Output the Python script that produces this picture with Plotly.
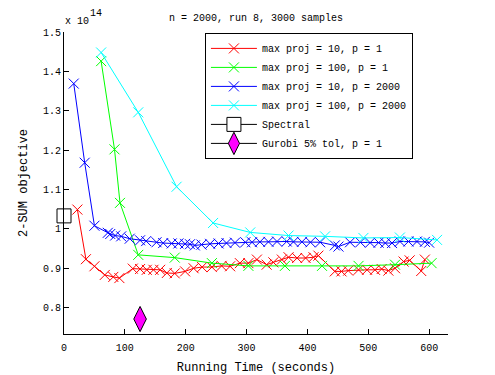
import plotly.graph_objects as go

# running time (s) and 2-SUM objective (x 1e14) per series
red_x = [22, 36, 50, 67, 81, 91, 113, 125, 136, 147, 158, 169, 182, 199, 213, 227, 243,
         259, 273, 289, 303, 317, 333, 344, 358, 369, 383, 397, 410, 418, 445, 456, 467,
         484, 498, 511, 522, 533, 544, 558, 568, 587, 593]
red_y = [1.049, 0.923, 0.905, 0.883, 0.878, 0.875, 0.899, 0.898, 0.896, 0.896, 0.896, 0.888,
         0.887, 0.892, 0.900, 0.903, 0.903, 0.906, 0.905, 0.913, 0.913, 0.922, 0.909, 0.915,
         0.922, 0.928, 0.926, 0.926, 0.928, 0.932, 0.892, 0.892, 0.894, 0.896, 0.896, 0.896,
         0.898, 0.894, 0.900, 0.917, 0.920, 0.893, 0.922]

green_x = [61, 83, 92, 122, 182, 243, 303, 363, 424, 484, 544, 604]
green_y = [1.426, 1.202, 1.066, 0.934, 0.927, 0.913, 0.906, 0.906, 0.906, 0.906, 0.909, 0.913]

blue_x = [16, 34, 50, 72, 76, 84, 94, 108, 125, 135, 152, 163, 177, 188, 199, 207, 215, 226,
          240, 254, 267, 281, 298, 309, 322, 336, 350, 366, 377, 391, 405, 421, 445, 451,
          470, 487, 503, 517, 528, 539, 552, 566, 580, 593, 600]
blue_y = [1.369, 1.168, 1.008, 0.990, 0.987, 0.983, 0.981, 0.975, 0.971, 0.969, 0.966, 0.964,
          0.963, 0.963, 0.962, 0.961, 0.958, 0.960, 0.962, 0.963, 0.964, 0.965, 0.966, 0.966,
          0.967, 0.967, 0.968, 0.968, 0.967, 0.967, 0.966, 0.966, 0.958, 0.955, 0.966, 0.966,
          0.965, 0.965, 0.964, 0.964, 0.968, 0.968, 0.968, 0.967, 0.965]

cyan_x = [61, 122, 185, 245, 306, 369, 429, 492, 552, 613]
cyan_y = [1.448, 1.296, 1.107, 1.015, 0.991, 0.983, 0.981, 0.977, 0.978, 0.972]

spectral_x = [0]
spectral_y = [1.033]
gurobi_x = [125]
gurobi_y = [0.771]

FONT = "Liberation Mono"

fig = go.Figure()

series = [
    (red_x, red_y, "#ff0000", "max proj = 10, p = 1"),
    (green_x, green_y, "#00ff00", "max proj = 100, p = 1"),
    (blue_x, blue_y, "#0000ff", "max proj = 10, p = 2000"),
    (cyan_x, cyan_y, "#00ffff", "max proj = 100, p = 2000"),
]
for xs, ys, col, name in series:
    fig.add_trace(go.Scatter(
        x=xs, y=ys, name=name, mode="lines+markers",
        line=dict(color=col, width=1),
        marker=dict(symbol="x-thin-open", size=10, color=col,
                    line=dict(color=col, width=1)),
    ))

fig.add_trace(go.Scatter(
    x=spectral_x, y=spectral_y, name="Spectral", mode="lines+markers",
    line=dict(color="black", width=1),
    marker=dict(symbol="square", size=14, color="white",
                line=dict(color="black", width=1)),
    cliponaxis=False,
))
fig.add_trace(go.Scatter(
    x=gurobi_x, y=gurobi_y, name="Gurobi 5% tol, p = 1", mode="lines+markers",
    line=dict(color="black", width=1),
    marker=dict(symbol="diamond-tall", size=18, color="#ff00ff",
                line=dict(color="black", width=1)),
))

# the page body has an 8px margin, so the figure is shrunk by that much
fig.update_layout(
    width=487, height=367,
    margin=dict(l=56, r=47, t=24, b=41),
    plot_bgcolor="white", paper_bgcolor="white",
    font=dict(family=FONT, size=10, color="black"),
    title=dict(text="n = 2000, run 8, 3000 samples", xref="paper", x=0.5,
               xanchor="center", y=0.973, yanchor="middle", font=dict(size=10)),
    legend=dict(x=0.367, y=0.997, xanchor="left", yanchor="top",
                bordercolor="black", borderwidth=1, bgcolor="white",
                font=dict(size=10), tracegroupgap=0, itemwidth=46),
    annotations=[
        dict(text="x 10", xref="paper", yref="paper", x=-0.003, y=1.036,
             xanchor="left", yanchor="middle", showarrow=False, font=dict(size=10)),
        dict(text="14", xref="paper", yref="paper", x=0.062, y=1.06,
             xanchor="left", yanchor="middle", showarrow=False, font=dict(size=10)),
    ],
)

fig.update_xaxes(
    range=[0, 631], tick0=0, dtick=100, showgrid=False, zeroline=False,
    showline=True, linecolor="black", linewidth=1, automargin=False,
    ticks="inside", ticklen=5, tickcolor="black", ticklabelstandoff=4,
    title=dict(text="Running Time (seconds)", standoff=10),
)
fig.update_yaxes(
    range=[0.733, 1.5], tick0=0.8, dtick=0.1, showgrid=False, zeroline=False,
    showline=True, linecolor="black", linewidth=1, automargin=False,
    ticks="inside", ticklen=5, tickcolor="black",
    title=dict(text="2-SUM objective", standoff=12),
)

fig.write_html("out.html")
